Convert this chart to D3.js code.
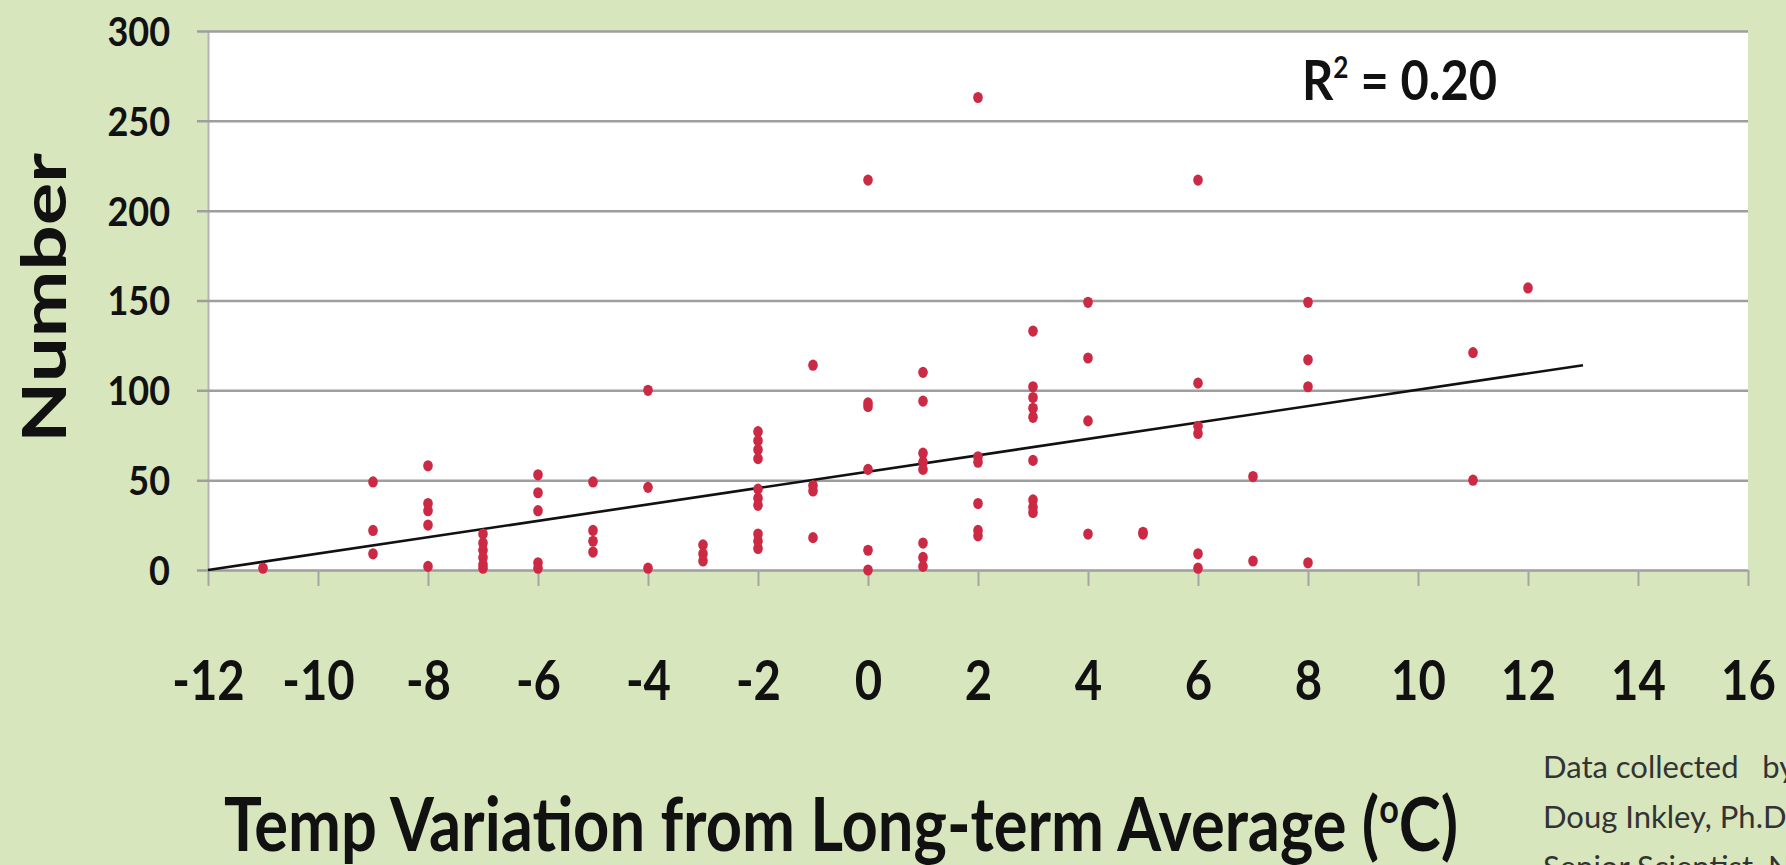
<!DOCTYPE html>
<html>
<head>
<meta charset="utf-8">
<script src="https://cdn.jsdelivr.net/npm/d3@7/dist/d3.min.js"></script>
<style>
  html, body { margin: 0; padding: 0; background: #d8e6bd; }
  svg { display: block; }
  text { font-family: Lato, "Open Sans", sans-serif; }
</style>
</head>
<body>
<svg id="chart" width="1786" height="865"></svg>
<script>
// ---- Data ----
const tempX = [
  -11,
  -9, -9, -9,
  -8, -8, -8, -8, -8,
  -7, -7, -7, -7, -7, -7,
  -6, -6, -6, -6, -6,
  -5, -5, -5, -5,
  -4, -4, -4,
  -3, -3, -3,
  -2, -2, -2, -2, -2, -2, -2, -2, -2, -2,
  -1, -1, -1, -1,
  0, 0, 0, 0, 0, 0,
  1, 1, 1, 1, 1, 1, 1, 1,
  2, 2, 2, 2, 2, 2,
  3, 3, 3, 3, 3, 3, 3, 3, 3,
  4, 4, 4, 4,
  5, 5,
  6, 6, 6, 6, 6, 6,
  7, 7,
  8, 8, 8, 8,
  11, 11,
  12
];
const countY = [
  1,
  49, 22, 9,
  58, 37, 33, 25, 2,
  20, 15, 11, 7, 3, 1,
  53, 43, 33, 4, 1,
  49, 22, 16, 10,
  100, 46, 1,
  14, 9, 5,
  77, 72, 67, 62, 45, 40, 36, 20, 16, 12,
  114, 47, 44, 18,
  217, 93, 91, 56, 11, 0,
  110, 94, 65, 60, 56, 15, 7, 2,
  263, 63, 60, 37, 22, 19,
  133, 102, 96, 90, 85, 61, 39, 35, 32,
  149, 118, 83, 20,
  21, 20,
  217, 104, 80, 76, 9, 1,
  52, 5,
  149, 117, 102, 4,
  121, 50,
  157
];
const trendX = [-12, 13];
const trendY = [0, 114];
const xTicks = [-12, -10, -8, -6, -4, -2, 0, 2, 4, 6, 8, 10, 12, 14, 16];
const yTicks = [0, 50, 100, 150, 200, 250, 300];
const rSquaredLabel = "0.20";
const xTitle = "Temp Variation from Long-term Average (";
const yTitle = "Number";
const creditLines = ["Data collected\u00a0\u00a0 by", "Doug Inkley, Ph.D.", "Senior Scientist, National Wildlife Federation"];

// ---- Layout ----
const svg = d3.select("#chart");
const W = 1786, H = 865;
const plot = { left: 208, right: 1748, top: 31, bottom: 570 };

svg.append("rect").attr("width", W).attr("height", H).attr("fill", "#d8e6bd");

const x = d3.scaleLinear().domain([-12, 16]).range([plot.left, plot.right]);
const y = d3.scaleLinear().domain([0, 300]).range([plot.bottom, plot.top]);

// plot area
svg.append("rect")
  .attr("x", plot.left).attr("y", plot.top)
  .attr("width", plot.right - plot.left).attr("height", plot.bottom - plot.top)
  .attr("fill", "#ffffff");

// Y axis with gridlines
const yAxis = svg.append("g")
  .attr("transform", `translate(${plot.left},0)`)
  .call(d3.axisLeft(y).tickValues(yTicks).tickSize(0).tickPadding(0));
yAxis.select(".domain").attr("stroke", "#b4b4b4").attr("stroke-width", 2);
yAxis.selectAll(".tick line")
  .attr("x1", -11).attr("x2", plot.right - plot.left)
  .attr("stroke", "#9e9e9e").attr("stroke-width", 2.5);
const ySx = 0.9;
yAxis.selectAll(".tick text")
  .attr("x", -38 / ySx).attr("dy", "0.36em")
  .attr("transform", `scale(${ySx},1)`)
  .attr("fill", "#111").attr("font-size", 40).attr("font-weight", 700)
  .attr("font-family", "Lato, sans-serif");

// X axis (ticks on the zero line, labels set low)
const xAxis = svg.append("g")
  .attr("transform", `translate(0,${plot.bottom})`)
  .call(d3.axisBottom(x).tickValues(xTicks).tickSize(16).tickFormat(d3.format("d")));
xAxis.select(".domain").remove();
xAxis.selectAll(".tick line").attr("stroke", "#a4a4a4").attr("stroke-width", 2);
const xSx = 0.86;
xAxis.selectAll(".tick text")
  .attr("y", 130).attr("dy", 0)
  .attr("transform", `scale(${xSx},1)`)
  .attr("fill", "#111").attr("font-size", 55).attr("font-weight", 700)
  .attr("font-family", "Lato, sans-serif")
  .text(d => d < 0 ? "-" + Math.abs(d) : d);

// trend line
svg.append("line")
  .attr("x1", x(trendX[0])).attr("y1", y(trendY[0]))
  .attr("x2", x(trendX[1])).attr("y2", y(trendY[1]))
  .attr("stroke", "#111").attr("stroke-width", 2.6);

// points
svg.append("g").selectAll("ellipse")
  .data(tempX.map((t, i) => ({ t, n: countY[i] })))
  .join("ellipse")
  .attr("cx", d => x(d.t)).attr("cy", d => y(d.n))
  .attr("rx", 4.8).attr("ry", 5.6)
  .attr("fill", "#cc2945");

// R squared
const r2 = svg.append("text")
  .attr("x", 1302).attr("y", 100)
  .attr("font-size", 56).attr("font-weight", 700).attr("fill", "#111")
  .attr("textLength", 195).attr("lengthAdjust", "spacingAndGlyphs");
r2.append("tspan").text("R");
r2.append("tspan").attr("font-size", 30).attr("dy", -22).text("2");
r2.append("tspan").attr("dy", 22).text(" = " + rSquaredLabel);

// Y title
svg.append("text")
  .attr("transform", "translate(66,298) rotate(-90)")
  .attr("text-anchor", "middle")
  .attr("font-size", 61).attr("font-weight", 700).attr("fill", "#111")
  .attr("textLength", 290).attr("lengthAdjust", "spacingAndGlyphs")
  .text(yTitle);

// X title
const xt = svg.append("text")
  .attr("x", 224).attr("y", 851)
  .attr("font-size", 74).attr("font-weight", 700).attr("fill", "#111")
  .attr("textLength", 1234).attr("lengthAdjust", "spacingAndGlyphs");
xt.append("tspan").text(xTitle);
xt.append("tspan").attr("font-size", 40).attr("dy", -28).text("o");
xt.append("tspan").attr("dy", 28).text("C)");

// credit text
svg.append("g").selectAll("text")
  .data(creditLines)
  .join("text")
  .attr("x", 1543).attr("y", (d, i) => 778 + i * 50)
  .attr("font-size", 31).attr("fill", "#333333")
  .attr("font-family", "Lato, sans-serif")
  .text(d => d);
</script>
</body>
</html>
